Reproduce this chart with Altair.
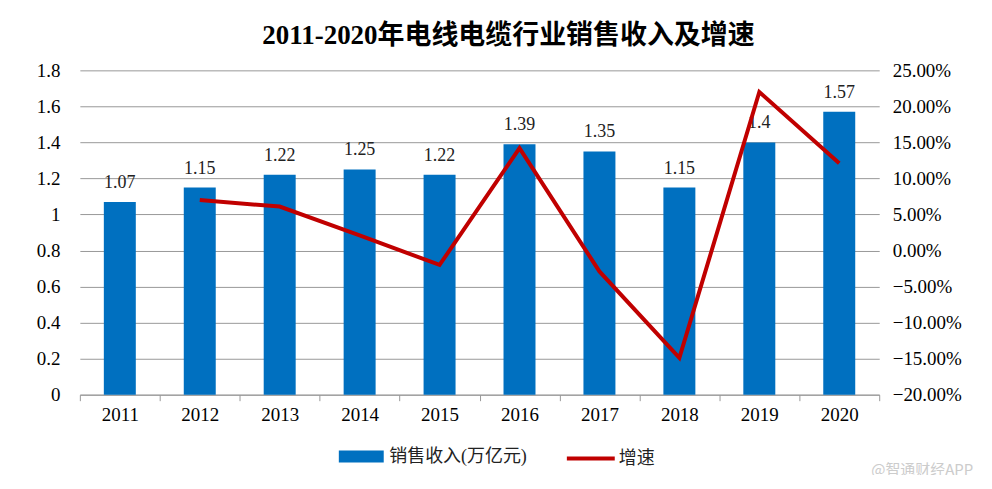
import altair as alt
import pandas as pd

years = ["2011", "2012", "2013", "2014", "2015", "2016", "2017", "2018", "2019", "2020"]
revenue = [1.07, 1.15, 1.22, 1.25, 1.22, 1.39, 1.35, 1.15, 1.40, 1.57]
growth = [None, 0.070, 0.061, 0.021, -0.020, 0.142, -0.029, -0.149, 0.220, 0.121]
left_ticks = [0, 0.2, 0.4, 0.6, 0.8, 1.0, 1.2, 1.4, 1.6, 1.8]
right_ticks = [-0.2, -0.15, -0.1, -0.05, 0, 0.05, 0.1, 0.15, 0.2, 0.25]
bar_name = "销售收入(万亿元)"
line_name = "增速"
title_text = "2011-2020年电线电缆行业销售收入及增速"
watermark = "@智通财经APP"

FONT = "'Liberation Serif', 'Noto Sans CJK SC'"
TICK = 19

bar_df = pd.DataFrame({"year": years, "revenue": revenue, "series": bar_name,
                       "label": [f"{v:g}" for v in revenue]})
line_df = pd.DataFrame({"year": years, "growth": growth, "series": line_name}).dropna()

x_enc = alt.X("year:N", title=None, sort=years,
              scale=alt.Scale(paddingInner=0, paddingOuter=0),
              axis=alt.Axis(labelAngle=0, labelFont=FONT, labelFontSize=TICK, labelColor="#000",
                            domainColor="#999", tickColor="#999", tickBand="extent",
                            tickSize=6, labelPadding=5, grid=False))

y_left = alt.Y("revenue:Q", title=None,
               scale=alt.Scale(domain=[0, 1.8], nice=False),
               axis=alt.Axis(values=left_ticks,
                             labelExpr="format(datum.value, '~g')",
                             labelFont=FONT, labelFontSize=TICK, labelColor="#000",
                             domain=False, ticks=False, labelPadding=20,
                             gridColor="#999", gridWidth=1))

bars = alt.Chart(bar_df).mark_bar(width=alt.RelativeBandSize(0.4)).encode(
    x=x_enc,
    y=y_left,
    color=alt.Color("series:N", scale=alt.Scale(domain=[bar_name], range=["#0070C0"]),
                    legend=alt.Legend(title=None, orient="none", legendX=270, legendY=375,
                                      symbolType="M-1.875,-0.5H1.875V0.5H-1.875Z", symbolSize=576,
                                      symbolStrokeWidth=0, labelFont=FONT, labelFontSize=18,
                                      labelOffset=16, labelColor="#222", symbolOpacity=1)),
)

labels = alt.Chart(bar_df).mark_text(dy=-19, font=FONT, fontSize=18, color="#222").encode(
    x=x_enc,
    y=y_left,
    text="label:N",
)

wm = alt.Chart(pd.DataFrame({"t": [watermark]})).mark_text(
    font="'Noto Sans CJK SC'", fontSize=15, color="#cccccc", align="left", baseline="middle"
).encode(x=alt.value(793), y=alt.value(400), text="t:N")

left = alt.layer(bars, labels, wm)

line = alt.Chart(line_df).mark_line(strokeWidth=4, color="#C00000").encode(
    x=x_enc,
    y=alt.Y("growth:Q", title=None,
            scale=alt.Scale(domain=[-0.2, 0.25], nice=False),
            axis=alt.Axis(orient="right", format=".2%", values=right_ticks,
                          labelFont=FONT, labelFontSize=TICK, labelColor="#000",
                          domain=False, ticks=False, grid=False, labelPadding=13)),
    color=alt.Color("series:N", scale=alt.Scale(domain=[line_name], range=["#C00000"]),
                    legend=alt.Legend(title=None, orient="none", legendX=486, legendY=363,
                                      symbolType="stroke", symbolSize=2304, symbolStrokeWidth=4,
                                      labelOffset=2, labelFont=FONT, labelFontSize=18,
                                      labelColor="#222")),
)

chart = alt.layer(left, line).resolve_scale(y="independent", color="independent").properties(
    width=801, height=325,
    padding={"left": 72, "top": 62, "right": 105, "bottom": 80},
    autosize=alt.AutoSizeParams(type="none"),
    title=alt.TitleParams(title_text, font=FONT, fontSize=27, fontWeight="bold",
                          color="#000", anchor="middle", offset=11, dx=29),
).configure_view(stroke=None)

chart.save("out.html", embed_options={"renderer": "svg", "actions": False})
